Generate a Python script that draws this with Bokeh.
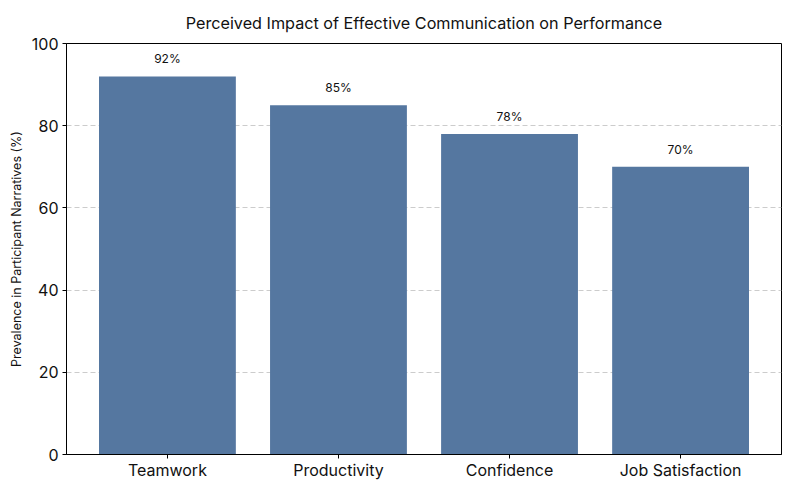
from bokeh.plotting import figure
from bokeh.models import ColumnDataSource, Range1d, FixedTicker
from bokeh.core.properties import value
from bokeh.embed import file_html
from bokeh.resources import INLINE

title_text = "Perceived Impact of Effective Communication on Performance"
categories = ["Teamwork", "Productivity", "Confidence", "Job Satisfaction"]
prevalence = [92, 85, 78, 70]
labels = [f"{v}%" for v in prevalence]
y_ticks = [0, 20, 40, 60, 80, 100]

FONT = "Inter"
BAR = "#5577A0"

src = ColumnDataSource(dict(cat=categories, val=prevalence, lab=labels))

p = figure(x_range=categories, y_range=Range1d(0, 100),
           frame_width=715, frame_height=411,
           min_border_left=66, min_border_top=43, min_border_right=9, min_border_bottom=36,
           output_backend="svg", toolbar_location=None, title=title_text)
p.x_range.range_padding_units = "absolute"
p.x_range.range_padding = 0.09

p.vbar(x="cat", top="val", width=0.8, source=src, color=BAR, line_color=None)
p.text(x="cat", y="val", text="lab", source=src, text_align="center",
       text_baseline="bottom", y_offset=-10, text_font=value(FONT),
       text_font_size="12px", text_color="#111111")

p.title.align = "center"
p.title.vertical_align = "top"
p.title.text_font = FONT
p.title.text_font_size = "16.2px"
p.title.text_font_style = "normal"
p.title.text_color = "#111111"
p.title.standoff = 18

p.outline_line_color = "black"
p.outline_line_width = 1
p.outline_line_alpha = 1

p.xgrid.grid_line_color = None
p.ygrid.grid_line_color = "#cccccc"
p.ygrid.grid_line_dash = "5 3"
p.ygrid.grid_line_width = 1

p.yaxis.ticker = FixedTicker(ticks=y_ticks)
p.yaxis.axis_label = "Prevalence in Participant Narratives (%)"
p.yaxis.axis_label_text_font = FONT
p.yaxis.axis_label_text_font_size = "12.5px"
p.yaxis.axis_label_text_font_style = "normal"
p.yaxis.axis_label_text_color = "#111111"
p.yaxis.axis_label_standoff = 5

for ax in (p.xaxis[0], p.yaxis[0]):
    ax.major_label_text_font = FONT
    ax.major_label_text_font_size = "16px"
    ax.major_label_text_color = "#111111"
    ax.axis_line_color = "black"
    ax.major_tick_line_color = "black"
    ax.major_tick_out = 4
    ax.major_tick_in = 0
    ax.minor_tick_line_color = None
    ax.major_label_standoff = 4

p.xaxis[0].major_label_standoff = 1

p.background_fill_color = "white"
p.border_fill_color = "white"

open("out.html", "w").write(file_html(p, INLINE))
